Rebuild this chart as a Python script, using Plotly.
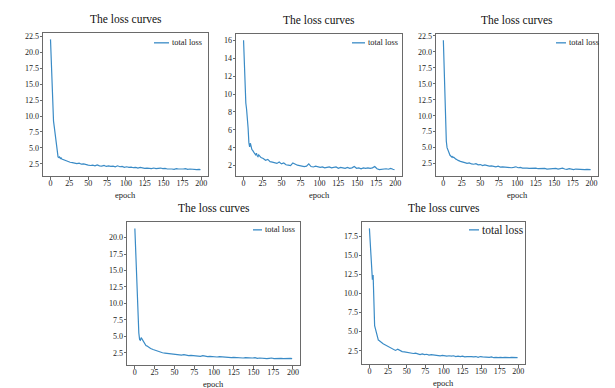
import plotly.graph_objects as go

# ---------------- data ----------------
epochs = list(range(0, 21)) + list(range(23, 198, 3)) + [199]

loss_1 = [22.0, 18.5, 15.0, 11.5, 9.2, 8.3, 7.3, 6.2, 5.1, 4.2, 3.6,
          3.5, 3.6, 3.35, 3.45, 3.25, 3.2, 3.1, 3.15, 3.0, 2.95,
          2.85, 2.75, 2.7, 2.6, 2.55, 2.6, 2.45, 2.5, 2.35, 2.3,
          2.25, 2.3, 2.2, 2.35, 2.2, 2.15, 2.25, 2.1, 2.2, 2.1,
          2.15, 2.05, 2.2, 2.05, 2.1, 1.95, 2.05, 1.95, 2.0, 1.9,
          1.95, 1.85, 1.95, 1.85, 1.8, 1.85, 1.8, 1.75, 1.85, 1.75,
          1.8, 1.85, 1.75, 1.8, 1.7, 1.75, 1.7, 1.65, 1.75, 1.7,
          1.65, 1.7, 1.75, 1.65, 1.7, 1.65, 1.7, 1.6, 1.65, 1.6]

loss_2 = [16.0, 13.0, 10.5, 9.0, 8.3, 7.5, 6.2, 4.6, 4.1, 4.5, 3.9,
          3.8, 3.7, 3.5, 3.45, 3.3, 3.2, 3.4, 3.1, 3.0, 3.2,
          2.9, 2.8, 2.6, 2.7, 2.45, 2.4, 2.35, 2.25, 2.4, 2.2,
          2.3, 2.1, 2.05, 2.0, 2.3, 2.15, 2.05, 2.0, 1.95, 1.9,
          1.95, 2.2, 1.9, 1.85, 1.95, 1.9, 1.8, 1.85, 1.75, 1.8,
          1.85, 1.75, 1.8, 1.85, 1.7, 1.8, 1.75, 1.7, 1.8, 1.7,
          1.75, 1.9, 1.7, 1.75, 1.65, 1.75, 1.7, 1.75, 1.7, 1.75,
          1.9, 1.65, 1.55, 1.6, 1.6, 1.65, 1.6, 1.7, 1.6, 1.55]

loss_3 = [21.8, 17.0, 13.5, 9.5, 6.0, 5.0, 4.6, 4.3, 4.0, 3.8, 3.7,
          3.55, 3.6, 3.45, 3.5, 3.35, 3.3, 3.2, 3.15, 3.05, 3.0,
          2.85, 2.7, 2.65, 2.55, 2.6, 2.45, 2.4, 2.5, 2.3, 2.35,
          2.2, 2.3, 2.15, 2.1, 2.15, 2.05, 2.0, 2.1, 1.95, 2.0,
          1.95, 1.9, 1.95, 1.85, 1.9, 2.0, 1.85, 1.9, 1.8, 1.85,
          1.8, 1.75, 1.8, 1.75, 1.8, 1.7, 1.75, 1.7, 1.75, 1.65,
          1.7, 1.65, 1.7, 1.75, 1.65, 1.7, 1.8, 1.65, 1.6, 1.7,
          1.6, 1.55, 1.65, 1.6, 1.55, 1.6, 1.55, 1.6, 1.55, 1.55]

loss_4 = [21.4, 17.5, 14.0, 11.0, 8.0, 5.5, 4.5, 4.4, 4.8, 4.6, 4.2,
          4.0, 3.9, 3.75, 3.6, 3.55, 3.45, 3.4, 3.3, 3.2, 3.15,
          3.0, 2.85, 2.7, 2.55, 2.5, 2.45, 2.4, 2.35, 2.3, 2.35,
          2.25, 2.2, 2.15, 2.2, 2.1, 2.05, 2.1, 2.05, 2.0, 2.05,
          1.95, 2.05, 1.95, 1.9, 1.95, 1.9, 1.95, 1.85, 1.9, 1.85,
          1.8, 1.85, 1.8, 1.75, 1.8, 1.75, 1.8, 1.75, 1.7, 1.75,
          1.7, 1.75, 1.7, 1.75, 1.65, 1.7, 1.65, 1.7, 1.6, 1.65,
          1.7, 1.6, 1.65, 1.6, 1.65, 1.6, 1.65, 1.6, 1.65, 1.6]

loss_5 = [18.5, 16.5, 13.8, 12.4, 11.8, 12.4, 8.5, 5.8, 5.4, 5.0, 4.6,
          4.1, 3.9, 3.85, 3.75, 3.7, 3.6, 3.55, 3.45, 3.4, 3.35,
          3.2, 3.05, 2.85, 2.65, 2.55, 2.7, 2.5, 2.4, 2.35, 2.3,
          2.25, 2.2, 2.15, 2.2, 2.1, 2.0, 2.1, 2.0, 2.05, 1.95,
          2.0, 1.95, 1.9, 1.95, 1.85, 1.9, 1.85, 1.8, 1.85, 1.8,
          1.85, 1.75, 1.8, 1.75, 1.8, 1.7, 1.75, 1.7, 1.75, 1.7,
          1.75, 1.65, 1.75, 1.7, 1.65, 1.7, 1.65, 1.7, 1.6, 1.65,
          1.6, 1.65, 1.6, 1.65, 1.6, 1.6, 1.65, 1.6, 1.6, 1.6]

series = [loss_1, loss_2, loss_3, loss_4, loss_5]
x_ticks = [0, 25, 50, 75, 100, 125, 150, 175, 200]
y_ticks = [
    [2.5, 5.0, 7.5, 10.0, 12.5, 15.0, 17.5, 20.0, 22.5],
    [2, 4, 6, 8, 10, 12, 14, 16],
    [2.5, 5.0, 7.5, 10.0, 12.5, 15.0, 17.5, 20.0, 22.5],
    [2.5, 5.0, 7.5, 10.0, 12.5, 15.0, 17.5, 20.0],
    [2.5, 5.0, 7.5, 10.0, 12.5, 15.0, 17.5],
]
y_fmt = [".1f", "d", ".1f", ".1f", ".1f"]
title_text = "The loss curves"
legend_text = "total loss"
xlabel = "epoch"

# ---------------- layout (pixel boxes) ----------------
W, H = 615, 388
boxes = [  # x0, x1, ytop, ybottom in pixels
    (35, 200, 23, 167),
    (228, 394, 24, 167),
    (428, 590, 24, 167),
    (119, 292, 213, 357),
    (354, 517, 213, 356),
]
legend_font = [8.4, 8.4, 8.4, 8.4, 11.5]

FONT = "Liberation Serif, Times New Roman, serif"
LINE = "#3a8bc6"
AX = "#6a6a6a"

fig = go.Figure()
annotations = []
shapes = []

def px(x):
    return x / W

def py(y):
    return 1 - y / H

for i, (vals, box) in enumerate(zip(series, boxes)):
    n = i + 1
    xa = "x" if n == 1 else f"x{n}"
    ya = "y" if n == 1 else f"y{n}"
    fig.add_trace(go.Scatter(x=epochs[:len(vals)], y=vals, mode="lines",
                             line=dict(color=LINE, width=1.2),
                             xaxis=xa, yaxis=ya, showlegend=False,
                             name=legend_text))
    x0, x1, yt, yb = box
    lo, hi = min(vals), max(vals)
    pad = 0.05 * (hi - lo)
    xmin, xmax = min(epochs), max(epochs)
    xpad = 0.05 * (xmax - xmin)
    common = dict(showline=True, mirror=True, linecolor=AX, linewidth=1,
                  ticks="outside", ticklen=2.5, tickwidth=0.8, tickcolor=AX,
                  showgrid=False, zeroline=False,
                  tickfont=dict(family=FONT, size=8, color="#222"))
    fig.layout[f"xaxis{'' if n == 1 else n}"] = dict(
        domain=[px(x0), px(x1)], anchor=ya, ticklabelstandoff=-3,
        range=[xmin - xpad, xmax + xpad], tickvals=x_ticks, **common)
    fig.layout[f"yaxis{'' if n == 1 else n}"] = dict(
        domain=[py(yb), py(yt)], anchor=xa, ticklabelstandoff=-1,
        range=[lo - pad, hi + pad], tickvals=y_ticks[i],
        tickformat=y_fmt[i], **common)

    cx = (x0 + x1) / 2
    annotations.append(dict(text=title_text, x=px(cx), y=py(yt - 6),
                            xref="paper", yref="paper", xanchor="center",
                            yanchor="bottom", showarrow=False,
                            font=dict(family=FONT, size=11.5, color="#111")))
    annotations.append(dict(text=xlabel, x=px(cx), y=py(yb + 12),
                            xref="paper", yref="paper", xanchor="center",
                            yanchor="top", showarrow=False,
                            font=dict(family=FONT, size=8.5, color="#222")))

# legends (line handle + text), top-right inside each panel
legend_pos = [  # handle x0, handle x1, text x, y (pixels)
    (146, 161, 162, 33),
    (344, 357, 358, 33),
    (548, 558, 559, 33),
    (245, 254, 255, 221),
    (461, 471, 472, 221),
]
for (hx0, hx1, tx, ly), fs in zip(legend_pos, legend_font):
    shapes.append(dict(type="line", xref="paper", yref="paper",
                       x0=px(hx0), x1=px(hx1), y0=py(ly), y1=py(ly),
                       line=dict(color=LINE, width=1.3)))
    annotations.append(dict(text=legend_text, x=px(tx), y=py(ly),
                            xref="paper", yref="paper", xanchor="left",
                            yanchor="middle", showarrow=False,
                            font=dict(family=FONT, size=fs, color="#222")))

fig.update_layout(width=W, height=H, margin=dict(l=0, r=0, t=0, b=0),
                  paper_bgcolor="white", plot_bgcolor="white",
                  annotations=annotations, shapes=shapes)

fig.write_html("out.html")
